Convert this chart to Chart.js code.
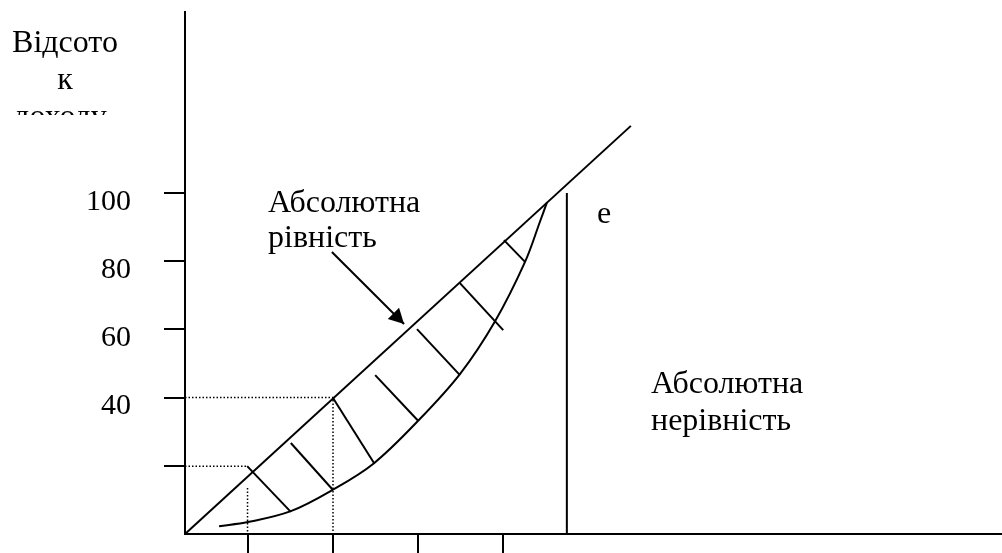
<!DOCTYPE html>
<html lang="uk">
<head>
<meta charset="utf-8">
<title>Крива Лоренца</title>
<script src="https://cdn.jsdelivr.net/npm/chart.js@4.4.1/dist/chart.umd.min.js"></script>
<style>
  html, body { margin: 0; padding: 0; background: #fff; }
  #wrap { width: 1002px; height: 553px; }
</style>
</head>
<body>
<div id="wrap"><canvas id="lorenz" width="1002" height="553"></canvas></div>
<script>
'use strict';

// ---- axis ticks ----
const yTicks = [20, 40, 60, 80, 100];
const yTickLabels = ['', '40', '60', '80', '100'];
const xTicks = [17, 40, 63, 86];

// ---- line of absolute equality ----
const equalityX = [0, 120.5];
const equalityY = [0, 119.7];

// ---- Lorenz curve ----
const lorenzX = [9.2, 17.0, 28.6, 40.0, 51.0, 63.0, 74.3, 83.8, 91.9, 95.9, 97.8];
const lorenzY = [2.3, 3.5, 6.7, 13.0, 20.7, 33.2, 46.9, 62.4, 79.8, 91.5, 97.2];

// ---- line of absolute inequality ----
const inequalityX = [103.2, 103.2];
const inequalityY = [0, 100];

// ---- hatching between diagonal and curve ----
const hatchTopX = [16.8, 28.6, 40.0, 51.4, 62.7, 74.3, 86.2];
const hatchTopY = [19.9, 26.7, 39.9, 46.6, 60.1, 73.6, 86.2];
const hatchBotX = [28.6, 40.0, 51.2, 63.0, 74.3, 86.0, 91.9];
const hatchBotY = [6.5, 12.9, 20.6, 33.2, 46.6, 59.8, 79.8];

// ---- dotted guides ----
const guide40X = [0, 40, 40];
const guide40Y = [40, 40, 0];
const guide20hX = [0, 16.8];
const guide20hY = [19.9, 19.9];
const guide20vX = [16.9, 16.9];
const guide20vY = [13.5, 0];

// ---- pointer from the "equality" label ----
const arrowX = [39.7, 59.2];
const arrowY = [82.7, 61.6];

const pts = (xs, ys) => xs.map((x, i) => ({ x, y: ys[i] }));

const solid = (data, extra) => Object.assign({
  data, showLine: true, borderColor: '#000', borderWidth: 2,
  pointRadius: 0, fill: false, clip: false
}, extra || {});

const dotted = (data) => solid(data, { borderWidth: 1.5, borderDash: [1.5, 2] });

const datasets = [
  solid(pts(equalityX, equalityY)),
  solid(pts(lorenzX, lorenzY), { tension: 0.35 }),
  solid(pts(inequalityX, inequalityY)),
  dotted(pts(guide40X, guide40Y)),
  dotted(pts(guide20hX, guide20hY)),
  dotted(pts(guide20vX, guide20vY)),
];
hatchTopX.forEach((x, i) => {
  datasets.push(solid([{ x, y: hatchTopY[i] }, { x: hatchBotX[i], y: hatchBotY[i] }]));
});
const arrowIndex = datasets.length;
datasets.push(solid(pts(arrowX, arrowY)));

const SERIF = '"Liberation Serif", "Times New Roman", serif';

// arrowhead + free text labels
const annotate = {
  id: 'annotate',
  afterDatasetsDraw(chart) {
    const { ctx } = chart;
    const pm = chart.getDatasetMeta(arrowIndex).data;
    const a = pm[0], b = pm[1];
    const ang = Math.atan2(b.y - a.y, b.x - a.x);
    const len = 15, half = 8;
    ctx.save();
    ctx.fillStyle = '#000';
    ctx.beginPath();
    ctx.moveTo(b.x, b.y);
    ctx.lineTo(b.x - len * Math.cos(ang) + half * Math.sin(ang), b.y - len * Math.sin(ang) - half * Math.cos(ang));
    ctx.lineTo(b.x - len * Math.cos(ang) - half * Math.sin(ang), b.y - len * Math.sin(ang) + half * Math.cos(ang));
    ctx.closePath();
    ctx.fill();
    ctx.restore();
  },
  afterDraw(chart) {
    const { ctx } = chart;
    ctx.save();
    ctx.fillStyle = '#000';
    ctx.textBaseline = 'alphabetic';

    // y-axis caption sits in a clipped box
    ctx.save();
    ctx.beginPath();
    ctx.rect(0, 0, 175, 115);
    ctx.clip();
    ctx.font = '32px ' + SERIF;
    ctx.textAlign = 'center';
    ctx.fillText('Відсото', 65, 52);
    ctx.fillText('к', 65, 89);
    ctx.fillText('доходу', 60, 126);
    ctx.restore();

    ctx.textAlign = 'left';
    ctx.font = '32px ' + SERIF;
    ctx.fillText('Абсолютна', 268, 212);
    ctx.fillText('рівність', 268, 247);
    ctx.fillText('Абсолютна', 651, 393);
    ctx.fillText('нерівність', 651, 430);
    ctx.fillText('e', 597, 223);
    ctx.restore();
  }
};

new Chart(document.getElementById('lorenz'), {
  type: 'scatter',
  data: { datasets },
  plugins: [annotate],
  options: {
    responsive: false,
    animation: false,
    events: [],
    layout: { padding: { top: 12, right: 0, bottom: 0, left: 0 } },
    plugins: { legend: { display: false }, tooltip: { enabled: false } },
    scales: {
      x: {
        type: 'linear', min: 0, max: 220.8,
        afterBuildTicks: (s) => { s.ticks = xTicks.map(v => ({ value: v })); },
        afterFit: (s) => { s.height = 19; s.paddingLeft = 0; s.paddingRight = 0; },
        ticks: { callback: () => '', font: { size: 1 } },
        grid: { drawOnChartArea: false, drawTicks: true, tickLength: 19, color: '#000', lineWidth: 2 },
        border: { display: true, color: '#000', width: 2 }
      },
      y: {
        type: 'linear', min: 0, max: 153.1,
        afterBuildTicks: (s) => { s.ticks = yTicks.map(v => ({ value: v })); },
        afterFit: (s) => { s.width = 185; s.paddingTop = 0; s.paddingBottom = 0; },
        ticks: {
          callback: (v, i) => yTickLabels[i],
          color: '#000', padding: 33, labelOffset: 9,
          font: { family: SERIF, size: 30 }
        },
        grid: { drawOnChartArea: false, drawTicks: true, tickLength: 21, color: '#000', lineWidth: 2 },
        border: { display: true, color: '#000', width: 2 }
      }
    }
  }
});
</script>
</body>
</html>
